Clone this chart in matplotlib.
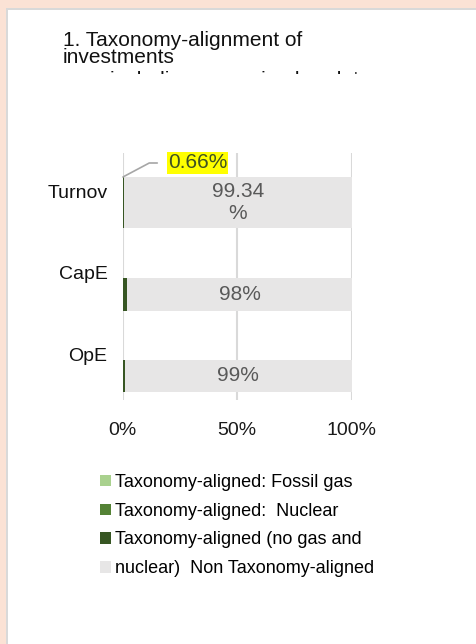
import numpy as np
import matplotlib
matplotlib.use("Agg")
import matplotlib.pyplot as plt
from matplotlib.patches import Rectangle
from matplotlib.transforms import Bbox

plt.rcParams["font.family"] = ["Liberation Sans", "DejaVu Sans"]

# data
categories = ["Turnov", "CapE", "OpE"]
fossil_gas = [0, 0, 0]
nuclear = [0, 0, 0]
aligned_other = [0.66, 2, 1]
non_aligned = [99.34, 98, 99]
non_aligned_labels = ["99.34\n%", "98%", "99%"]
turnover_label = "0.66%"
legend_labels = ["Taxonomy-aligned: Fossil gas",
                 "Taxonomy-aligned:  Nuclear",
                 "Taxonomy-aligned (no gas and",
                 "nuclear)  Non Taxonomy-aligned"]
colors = ["#a9d18e", "#548235", "#375623", "#e7e6e6"]

W, H = 476, 644
def box(x0, y0, x1, y1):
    return [x0 / W, 1 - y1 / H, (x1 - x0) / W, (y1 - y0) / H]

fig = plt.figure(figsize = (W / 100, H / 100), dpi = 100, facecolor = "white")

# page background (peach border + white panel)
bg = fig.add_axes([0, 0, 1, 1])
bg.set_xlim(0, W)
bg.set_ylim(H, 0)
bg.axis("off")
bg.add_patch(Rectangle((-10, -10), W + 40, H + 40, color = "#fbe2d5", lw = 0, clip_on = False))
bg.add_patch(Rectangle((6, 8), W + 40, H + 40, color = "#d9d9d9", lw = 0, clip_on = False))
bg.add_patch(Rectangle((8, 10), W + 40, H + 40, color = "white", lw = 0, clip_on = False))

bg.text(63, 63, "1. Taxonomy-alignment of\ninvestments", fontsize = 15, va = "baseline",
        linespacing = 0.86, color = "#111111")
t3 = bg.text(110.5, 86, "including sovereign bonds*", fontsize = 15, va = "baseline", color = "#111111")
t3.set_clip_on(True)
t3.set_clip_box(Bbox([[0, H - 74], [W, H]]))

# bars (y in page pixels)
bar_y = np.array([202.5, 294.5, 376])
bar_h = [51, 33, 32]
label_y = [192, 273, 355]

ax = fig.add_axes(box(122.7, 153, 351.6, 400))
ax.patch.set_alpha(0)
ax.set_xlim(0, 100)
ax.set_ylim(400, 153)

left = np.zeros(len(categories))
handles = []
for vals, c in zip([fossil_gas, nuclear, aligned_other, non_aligned], colors):
    bars = ax.barh(bar_y, vals, height = bar_h, left = left, color = c, zorder = 2)
    handles.append(bars)
    left += np.array(vals)

for i in range(len(categories)):
    ax.text(aligned_other[i] + non_aligned[i] / 2, bar_y[i], non_aligned_labels[i],
            ha = "center", va = "center", fontsize = 15, color = "#595959", zorder = 3)

ax.annotate(turnover_label, xy = (0.1, bar_y[0] - bar_h[0] / 2), xytext = (19.8, 163),
            ha = "left", va = "center", fontsize = 15, color = "#3f5223",
            bbox = dict(boxstyle = "square,pad=0.05", fc = "#ffff00", ec = "none"),
            arrowprops = dict(arrowstyle = "-", color = "#a6a6a6", lw = 1.2,
                              connectionstyle = "angle,angleA=0,angleB=28,rad=0",
                              relpos = (0, 0.5), shrinkA = 7, shrinkB = 0),
            zorder = 4)

ax.set_xticks([0, 50, 100], ["0%", "50%", "100%"])
ax.set_yticks(label_y, categories)
ax.xaxis.grid(True, color = "#d9d9d9", lw = 1.5)
ax.set_axisbelow(True)
for s in ax.spines.values():
    s.set_visible(False)
ax.tick_params(axis = "x", length = 0, pad = 16, labelsize = 14, labelcolor = "#1a1a1a")
ax.tick_params(axis = "y", length = 0, pad = 11, labelsize = 14, labelcolor = "#111111")

fig.legend(handles, legend_labels, loc = "upper left", bbox_to_anchor = (100 / W, 1 - 474 / H),
           frameon = False, fontsize = 13, handlelength = 0.6, handleheight = 0.6,
           handletextpad = 0.25, labelspacing = 0.65, borderpad = 0, borderaxespad = 0)

fig.savefig("out.png", dpi = 100)
